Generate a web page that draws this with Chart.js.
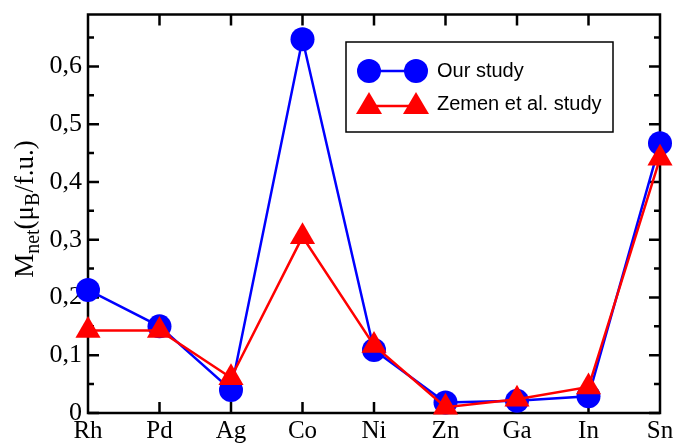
<!DOCTYPE html>
<html>
<head>
<meta charset="utf-8">
<script src="https://cdn.jsdelivr.net/npm/chart.js@4.4.0/dist/chart.umd.min.js"></script>
<style>
  html, body { margin: 0; padding: 0; background: #fff; }
  #wrap { width: 678px; height: 444px; }
</style>
</head>
<body>
<div id="wrap"><canvas id="mychart" width="678" height="444"></canvas></div>
<script>
const elements = ['Rh', 'Pd', 'Ag', 'Co', 'Ni', 'Zn', 'Ga', 'In', 'Sn'];
const ourStudy = [0.213, 0.150, 0.040, 0.647, 0.109, 0.018, 0.021, 0.029, 0.467];
const zemenStudy = [0.143, 0.143, 0.061, 0.305, 0.117, 0.010, 0.024, 0.045, 0.441];
const yTicks = [0, 0.1, 0.2, 0.3, 0.4, 0.5, 0.6];
const yMinorTicks = [0.05, 0.15, 0.25, 0.35, 0.45, 0.55, 0.65];

const serif = '"Liberation Serif", "DejaVu Serif", serif';
const sans = '"Liberation Sans", Arial, sans-serif';

// frame with inward ticks, drawn under the markers
const framePlugin = {
  id: 'frame',
  beforeDatasetsDraw(chart) {
    const ctx = chart.ctx;
    const a = chart.chartArea;
    const ys = chart.scales.y, xs = chart.scales.x;
    ctx.save();
    ctx.strokeStyle = '#000';
    ctx.lineWidth = 2.5;
    ctx.strokeRect(a.left, a.top, a.right - a.left, a.bottom - a.top);
    ctx.beginPath();
    yTicks.forEach(v => {
      const y = ys.getPixelForValue(v);
      ctx.moveTo(a.left, y); ctx.lineTo(a.left + 11, y);
      ctx.moveTo(a.right, y); ctx.lineTo(a.right - 11, y);
    });
    yMinorTicks.forEach(v => {
      const y = ys.getPixelForValue(v);
      ctx.moveTo(a.left, y); ctx.lineTo(a.left + 6, y);
      ctx.moveTo(a.right, y); ctx.lineTo(a.right - 6, y);
    });
    for (let i = 1; i < elements.length - 1; i++) {
      const x = xs.getPixelForValue(i);
      ctx.moveTo(x, a.bottom); ctx.lineTo(x, a.bottom - 11);
      ctx.moveTo(x, a.top); ctx.lineTo(x, a.top + 11);
    }
    ctx.stroke();
    ctx.restore();
  },
  afterDraw(chart) {
    const ctx = chart.ctx;
    ctx.save();
    // y title with subscripts
    ctx.translate(33, 209);
    ctx.rotate(-Math.PI / 2);
    ctx.fillStyle = '#000';
    ctx.textBaseline = 'alphabetic';
    const big = '27px ' + serif, small = '20px ' + serif;
    const parts = [['M', big, 0], ['net', small, 6], ['(\u03bc', big, 0], ['B', small, 6], ['/f.u.)', big, 0]];
    let w = 0;
    parts.forEach(p => { ctx.font = p[1]; w += ctx.measureText(p[0]).width; });
    let x = -w / 2;
    parts.forEach(p => { ctx.font = p[1]; ctx.fillText(p[0], x, p[2]); x += ctx.measureText(p[0]).width; });
    ctx.restore();

    // legend box
    ctx.save();
    ctx.strokeStyle = '#000';
    ctx.lineWidth = 1.5;
    ctx.strokeRect(346, 42, 267, 90);
    ctx.strokeStyle = 'rgb(0,0,255)';
    ctx.fillStyle = 'rgb(0,0,255)';
    ctx.lineWidth = 2.5;
    ctx.beginPath(); ctx.moveTo(369, 71); ctx.lineTo(416, 71); ctx.stroke();
    [369, 416].forEach(cx => { ctx.beginPath(); ctx.arc(cx, 71, 12, 0, Math.PI * 2); ctx.fill(); });
    ctx.strokeStyle = 'rgb(255,0,0)';
    ctx.fillStyle = 'rgb(255,0,0)';
    ctx.beginPath(); ctx.moveTo(369, 106); ctx.lineTo(416, 106); ctx.stroke();
    [369, 416].forEach(cx => {
      ctx.beginPath();
      ctx.moveTo(cx, 92); ctx.lineTo(cx + 13, 114); ctx.lineTo(cx - 13, 114);
      ctx.closePath(); ctx.fill();
    });
    ctx.fillStyle = '#000';
    ctx.font = '20px ' + sans;
    ctx.textBaseline = 'middle';
    ctx.fillText('Our study', 437, 71);
    ctx.fillText('Zemen et al. study', 437, 104);
    ctx.restore();
  }
};

function noPad(s) {
  s.paddingTop = 0; s.paddingBottom = 0; s.paddingLeft = 0; s.paddingRight = 0;
}

var ctx = document.getElementById('mychart').getContext('2d');
var myChart = new Chart(ctx, {
  type: 'line',
  data: {
    labels: elements,
    datasets: [{
      label: 'Our study',
      data: ourStudy,
      fill: false,
      borderColor: 'rgb(0,0,255)',
      backgroundColor: 'rgb(0,0,255)',
      borderWidth: 2.5,
      pointStyle: 'circle',
      pointRadius: 12,
      pointBorderWidth: 0,
      order: 2,
      clip: false
    },
    {
      label: 'Zemen et al. study',
      data: zemenStudy,
      fill: false,
      borderColor: 'rgb(255,0,0)',
      backgroundColor: 'rgb(255,0,0)',
      borderWidth: 2.5,
      pointStyle: 'triangle',
      pointRadius: 14.5,
      pointBorderWidth: 0,
      order: 1,
      clip: false
    }]
  },
  options: {
    responsive: false,
    animation: false,
    devicePixelRatio: 1,
    layout: { padding: { top: 13, right: 18, left: 0, bottom: 0 } },
    plugins: { legend: { display: false }, tooltip: { enabled: false } },
    elements: { line: { tension: 0 } },
    scales: {
      x: {
        type: 'category',
        offset: false,
        grid: { display: false, drawTicks: false },
        border: { display: false },
        ticks: { color: '#000', font: { family: serif, size: 25 }, padding: 3, maxRotation: 0, autoSkip: false },
        afterFit(s) { s.height = 31; noPad(s); }
      },
      y: {
        min: 0,
        max: 0.69,
        grid: { display: false, drawTicks: false },
        border: { display: false },
        ticks: {
          stepSize: 0.1,
          includeBounds: false,
          color: '#000',
          font: { family: serif, size: 26 },
          padding: 6,
          callback: v => v === 0 ? '0' : v.toFixed(1).replace('.', ',')
        },
        afterFit(s) { s.width = 88; noPad(s); }
      }
    }
  },
  plugins: [framePlugin]
});
</script>
</body>
</html>
